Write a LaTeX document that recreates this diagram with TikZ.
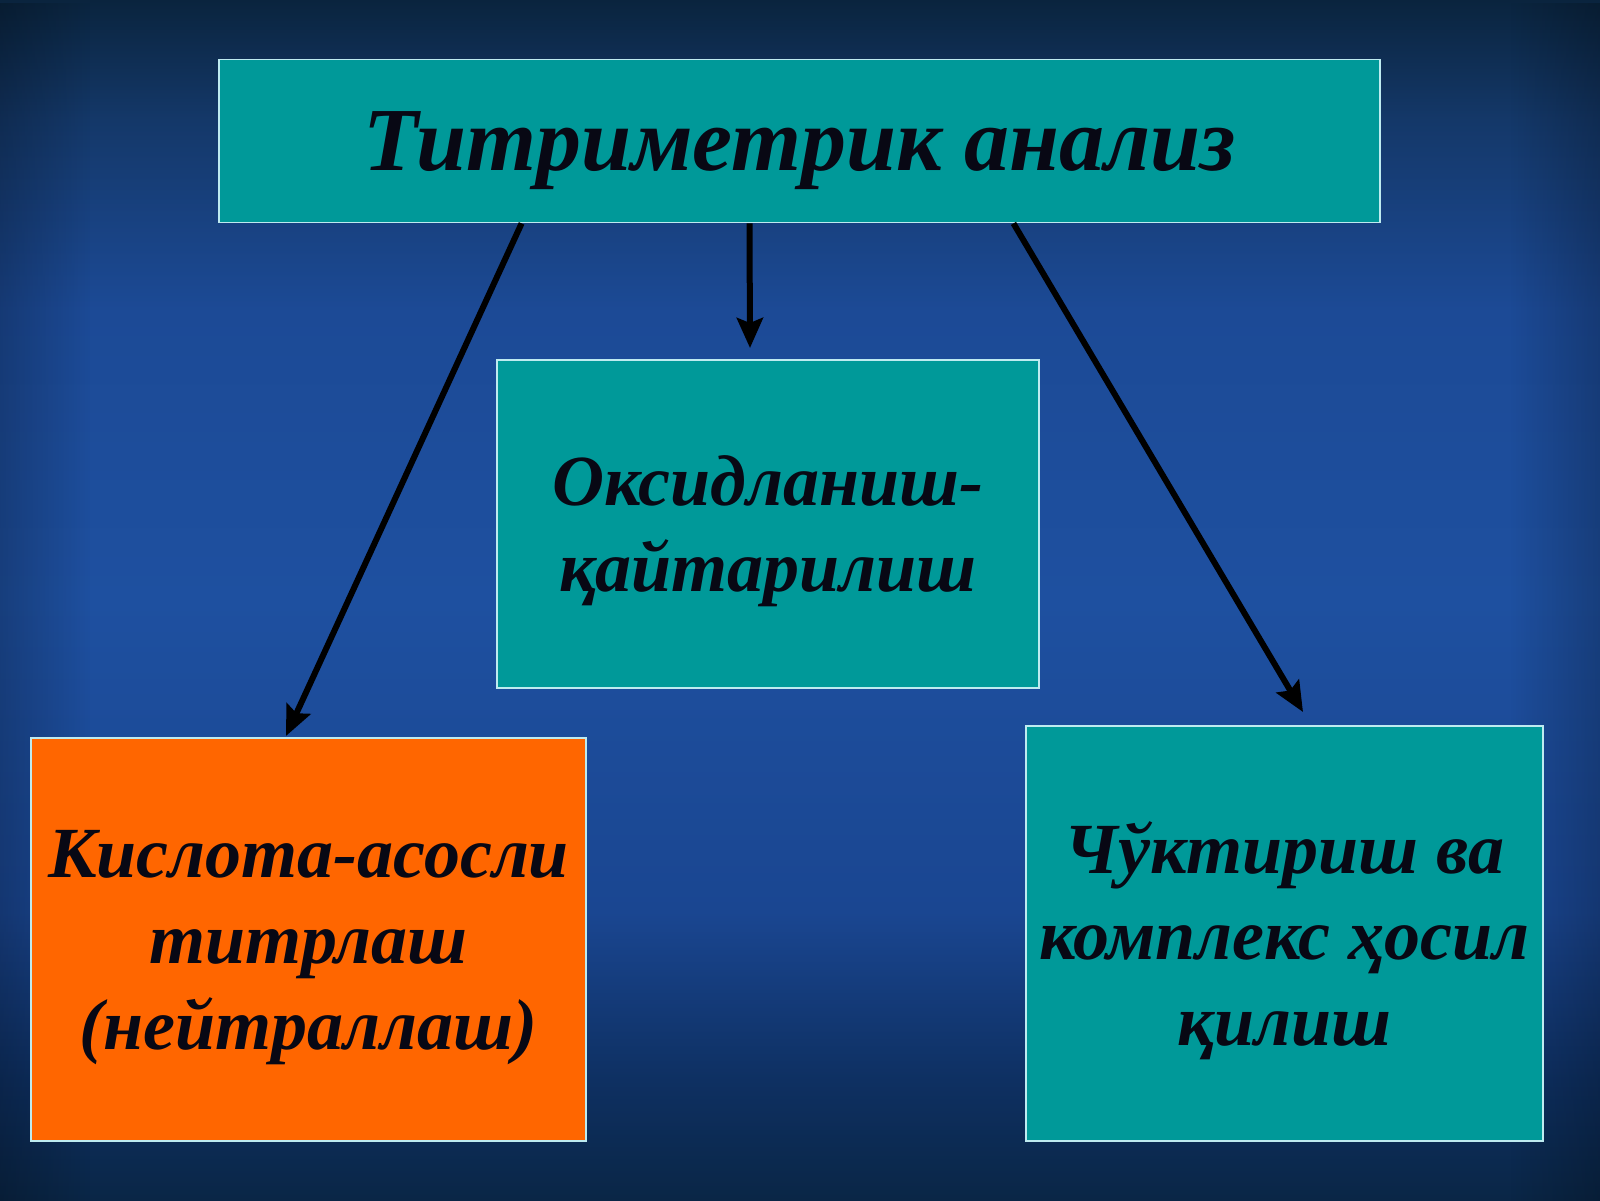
\documentclass[tikz,border=0pt]{standalone}
\usepackage{fontspec}
\setmainfont{Liberation Serif}
\usetikzlibrary{arrows.meta,calc,fadings}
\definecolor{tealbox}{RGB}{0,153,153}
\definecolor{orangebox}{RGB}{255,102,0}
\definecolor{boxline}{RGB}{190,235,240}
\definecolor{inkc}{RGB}{8,8,20}
\definecolor{bga}{RGB}{10,36,62}
\definecolor{bgb}{RGB}{20,56,105}
\definecolor{bgc}{RGB}{28,74,150}
\definecolor{bgd}{RGB}{30,80,160}
\definecolor{bge}{RGB}{26,70,145}
\definecolor{bgf}{RGB}{14,48,98}
\definecolor{bgg}{RGB}{10,38,70}
\pgfdeclareverticalshading{bgshade}{100bp}{
  color(0bp)=(bgg);
  color(25bp)=(bgg);
  color(30bp)=(bgf);
  color(37bp)=(bge);
  color(50bp)=(bgd);
  color(62bp)=(bgc);
  color(70bp)=(bgb);
  color(75bp)=(bga);
  color(100bp)=(bga)}
\tikzfading[name=fadeR, left color=transparent!0, right color=transparent!100]
\tikzfading[name=fadeL, left color=transparent!100, right color=transparent!0]
\tikzset{
  box/.style={draw=boxline, line width=1.8pt, inner sep=0pt, align=center,
    text=inkc, text depth=0pt, font=\bfseries\itshape\fontsize{72}{86}\selectfont},
  tealnode/.style={box, fill=tealbox},
  orangenode/.style={box, fill=orangebox},
  conn/.style={draw=black, line width=6pt,
    -{Stealth[length=30pt,width=26pt,inset=5pt]}}
}
\begin{document}
\begin{tikzpicture}[x=1pt,y=-1pt]
\useasboundingbox (0,0) rectangle (1600,1200);
\shade[shading=bgshade] (0,0) rectangle (1600,1200);
\fill[black, opacity=0.22, path fading=fadeR] (0,0) rectangle (90,1200);
\fill[black, opacity=0.22, path fading=fadeL] (1510,0) rectangle (1600,1200);
% boxes
\node[tealnode, minimum width=1161pt, minimum height=163pt,
  font=\bfseries\itshape\fontsize{90}{100}\selectfont] (top) at (799.5,141) {Титриметрик анализ};
\node[tealnode, minimum width=542pt, minimum height=328pt] (mid) at (768,524) {Оксидланиш-\\қайтарилиш};
\node[orangenode, minimum width=555pt, minimum height=403pt] (left) at (308.5,939.5) {Кислота-асосли\\титрлаш\\(нейтраллаш)};
\node[tealnode, minimum width=517pt, minimum height=415pt] (right) at (1284.5,933.5) {Чўктириш ва\\комплекс ҳосил\\қилиш};
% connector anchors
\coordinate (sL) at ($(top.south west)!0.261!(top.south east)$);
\coordinate (sM) at ($(top.south west)!0.457!(top.south east)$);
\coordinate (sR) at ($(top.south west)!0.684!(top.south east)$);
\coordinate (eL) at (286,736);
\coordinate (eM) at (750,348);
\coordinate (eR) at (1303,712);
\draw[conn] (sL) -- (eL);
\draw[conn] (sM) -- (eM);
\draw[conn] (sR) -- (eR);
\end{tikzpicture}
\end{document}
